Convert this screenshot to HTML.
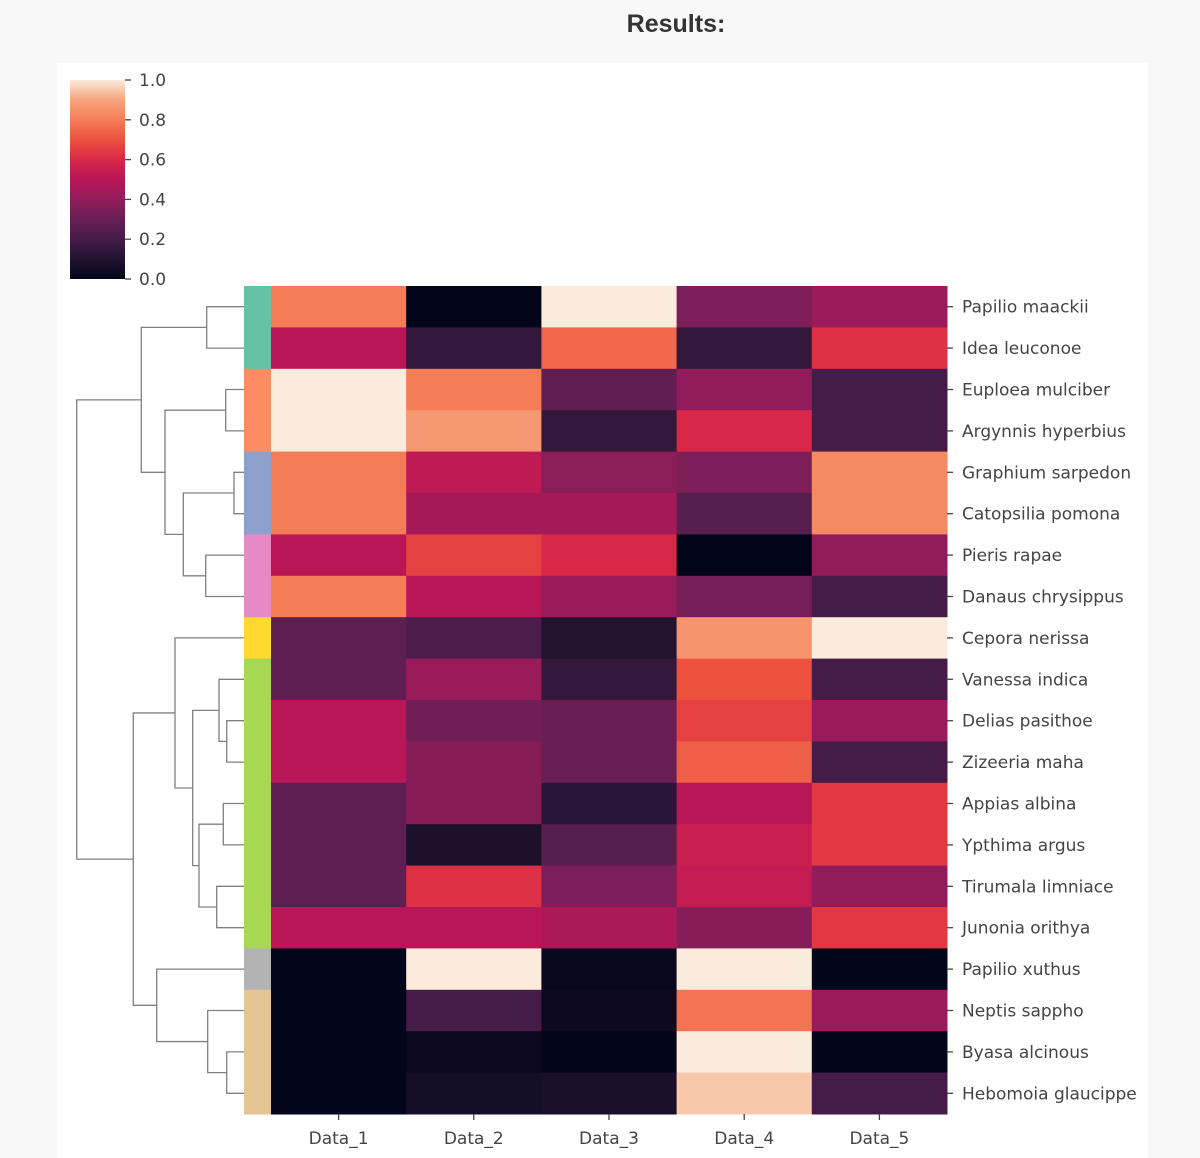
<!DOCTYPE html>
<html><head><meta charset="utf-8">
<style>
html,body{margin:0;padding:0;background:#f8f8f8;}
body{width:1200px;height:1158px;position:relative;overflow:hidden;font-family:"DejaVu Sans","Liberation Sans",sans-serif;}
#title{position:absolute;left:0;width:1352px;top:10px;text-align:center;font:bold 25px "Liberation Sans",sans-serif;color:#333;}
#panel{position:absolute;left:57px;top:63px;width:1091px;height:1095px;background:#fff;}
svg{position:absolute;left:0;top:0;}
</style></head><body>
<div id="title">Results:</div>
<div id="panel"></div>
<svg id="chart" width="1200" height="1158"></svg>
<script>
const rowLabels=["Papilio maackii","Idea leuconoe","Euploea mulciber","Argynnis hyperbius","Graphium sarpedon","Catopsilia pomona","Pieris rapae","Danaus chrysippus","Cepora nerissa","Vanessa indica","Delias pasithoe","Zizeeria maha","Appias albina","Ypthima argus","Tirumala limniace","Junonia orithya","Papilio xuthus","Neptis sappho","Byasa alcinous","Hebomoia glaucippe"];
const colLabels=["Data_1","Data_2","Data_3","Data_4","Data_5"];
const values=[
[0.80,0.00,1.00,0.35,0.42],
[0.50,0.15,0.75,0.15,0.62],
[1.00,0.80,0.28,0.40,0.20],
[1.00,0.87,0.15,0.60,0.20],
[0.80,0.52,0.38,0.35,0.83],
[0.80,0.45,0.45,0.25,0.83],
[0.50,0.66,0.60,0.00,0.40],
[0.80,0.50,0.42,0.33,0.20],
[0.27,0.22,0.10,0.86,1.00],
[0.27,0.42,0.15,0.70,0.20],
[0.50,0.32,0.30,0.66,0.42],
[0.50,0.37,0.30,0.73,0.20],
[0.27,0.37,0.12,0.50,0.64],
[0.27,0.08,0.25,0.55,0.64],
[0.27,0.62,0.35,0.53,0.40],
[0.50,0.50,0.47,0.37,0.64],
[0.00,1.00,0.02,1.00,0.00],
[0.00,0.20,0.03,0.78,0.42],
[0.00,0.03,0.00,1.00,0.00],
[0.00,0.06,0.07,0.95,0.20]];
const rowGroups=["#66c2a5","#66c2a5","#fc8d62","#fc8d62","#8da0cb","#8da0cb","#e78ac3","#e78ac3","#ffd92f","#a6d854","#a6d854","#a6d854","#a6d854","#a6d854","#a6d854","#a6d854","#b3b3b3","#e5c494","#e5c494","#e5c494"];
const cbTicks=[0,0.2,0.4,0.6,0.8,1.0];
const links=[[0,1,206.7],[2,3,225.7],[4,5,234],[6,7,205.7],[22,23,183.3],[21,24,165],[20,25,141.3],
[10,11,226.7],[9,27,219],[12,13,223.3],[14,15,216.7],[29,30,199],[28,31,192.7],[8,32,175],
[18,19,226.7],[17,34,207.7],[16,35,156.7],[33,36,133.3],[26,37,76.7]];
const X0=271,X1=947,Y0=286,Y1=1114,STRIP=244;
const cw=(X1-X0)/colLabels.length, rh=(Y1-Y0)/rowLabels.length;
const stops=["#03051a","#221331","#451c47","#691f55","#921c5b","#b91657","#d92847","#ed513e","#f47d57","#f6a47c","#faebdd"];
function hex(h){return [1,3,5].map(i=>parseInt(h.substr(i,2),16));}
function cmap(v){v=Math.max(0,Math.min(1,v));const p=v*10,i=Math.min(9,Math.floor(p)),t=p-i;const a=hex(stops[i]),b=hex(stops[i+1]);return "rgb("+a.map((c,k)=>Math.round(c+(b[k]-c)*t)).join(",")+")";}
const xS=c=>X0+c*cw, yS=r=>Y0+r*rh;
const svg=document.getElementById('chart');const NS="http://www.w3.org/2000/svg";
function mk(tag,attrs,parent){const e=document.createElementNS(NS,tag);for(const k in attrs)e.setAttribute(k,attrs[k]);(parent||svg).appendChild(e);return e;}
values.forEach((row,r)=>row.forEach((v,c)=>{
 const e=mk('rect',{x:xS(c),y:yS(r),width:cw+0.5,height:rh+0.5,fill:cmap(v)});
 
 
}));
rowGroups.forEach((col,r)=>{
 const e=mk('rect',{x:STRIP,y:yS(r),width:X0-STRIP,height:rh+0.5,fill:col});
 
 
});
rowLabels.forEach((l,r)=>{
 const cy=yS(r)+rh/2;
 mk('line',{x1:X1,x2:X1+6,y1:cy,y2:cy,stroke:'#444','stroke-width':1.3});
 const t=mk('text',{x:962,y:cy+6,'font-size':17,fill:'#444'});t.textContent=l;
 
 
});
colLabels.forEach((l,c)=>{
 const cx=xS(c)+cw/2;
 mk('line',{x1:cx,x2:cx,y1:Y1,y2:Y1+6,stroke:'#444','stroke-width':1.3});
 const t=mk('text',{x:cx,y:1144,'font-size':17,fill:'#444','text-anchor':'middle'});t.textContent=l;
 
 
});
const pos={};for(let i=0;i<rowLabels.length;i++)pos[i]={x:STRIP,y:yS(i)+rh/2};
const dg=mk('g',{stroke:'#808080','stroke-width':1.3,fill:'none'});


links.forEach((L,i)=>{
 const a=pos[L[0]],b=pos[L[1]],x=L[2];
 mk('path',{d:`M${a.x},${a.y}H${x}V${b.y}H${b.x}`},dg);
 pos[rowLabels.length+i]={x:x,y:(a.y+b.y)/2};
});
const defs=mk('defs',{});const g=mk('linearGradient',{id:'cbg',x1:0,y1:1,x2:0,y2:0},defs);
stops.forEach((s,i)=>mk('stop',{offset:(i/10),'stop-color':s},g));
const CB={x:70,w:55,y0:279,y1:80};
const cb=mk('rect',{x:CB.x,y:CB.y1,width:CB.w,height:CB.y0-CB.y1,fill:'url(#cbg)'});


cbTicks.forEach(v=>{
 const y=CB.y0-(CB.y0-CB.y1)*v;
 mk('line',{x1:125,x2:131,y1:y,y2:y,stroke:'#444','stroke-width':1.3});
 const t=mk('text',{x:139,y:y+6,'font-size':17,fill:'#444'});t.textContent=v.toFixed(1);
 
 
});
</script>
</body></html>
